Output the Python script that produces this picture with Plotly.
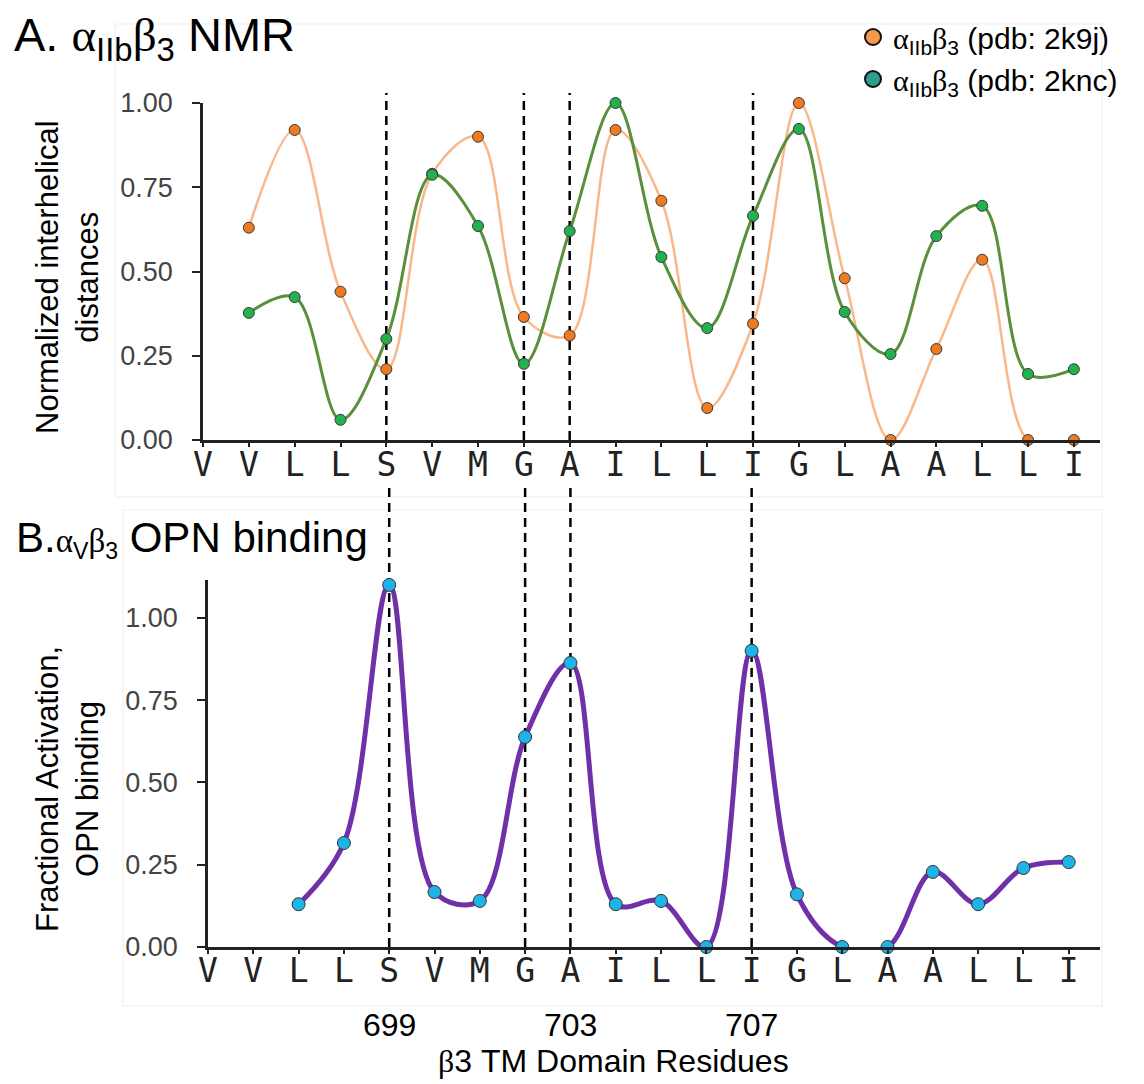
import plotly.graph_objects as go

# ---------------- data ----------------
residues = ["V", "V", "L", "L", "S", "V", "M", "G", "A", "I",
            "L", "L", "I", "G", "L", "A", "A", "L", "L", "I"]

# Panel A: normalized interhelical distances (None = no value)
nmr_2k9j = [None, 0.63, 0.92, 0.44, 0.21, 0.79, 0.90, 0.365, 0.31, 0.92,
            0.71, 0.095, 0.345, 1.00, 0.48, 0.00, 0.27, 0.535, 0.00, 0.00]
nmr_2knc = [None, 0.377, 0.424, 0.06, 0.30, 0.787, 0.635, 0.226, 0.62, 1.00,
            0.543, 0.332, 0.665, 0.923, 0.38, 0.255, 0.605, 0.695, 0.196, 0.21]

# Panel B: fractional activation, OPN binding
opn_binding = [None, None, 0.13, 0.316, 1.10, 0.167, 0.14, 0.638, 0.863, 0.13,
               0.14, 0.00, 0.90, 0.16, 0.00, 0.00, 0.228, 0.13, 0.24, 0.258]

highlight_idx = [4, 7, 8, 12]          # S, G, A, I
residue_numbers = {4: "699", 8: "703", 12: "707"}

SERIF_SPAN = "<span style='font-family:Liberation Serif, Times New Roman, serif'>{}</span>"
ALPHA = SERIF_SPAN.format("α")
BETA = SERIF_SPAN.format("β")
INTEGRIN_IIB = ALPHA + "<sub>IIb</sub>" + BETA + "<sub>3</sub>"
INTEGRIN_V = ALPHA + "<sub>V</sub>" + BETA + "<sub>3</sub>"

series_a_names = [INTEGRIN_IIB + " (pdb: 2k9j)",
                  INTEGRIN_IIB + " (pdb: 2knc)"]

# ---------------- layout helpers ----------------
W, H = 1144, 1084
def px(v):
    return v / W
def py(v):
    return 1 - v / H

def xy(vals):
    xs = [i for i, v in enumerate(vals) if v is not None]
    ys = [v for v in vals if v is not None]
    return xs, ys

SANS = "Liberation Sans, Arial, sans-serif"
MONO = "DejaVu Sans Mono, monospace"

fig = go.Figure()

# ---- Panel A ----
for vals, lcol, lw in [
    (nmr_2k9j, "#F8B88A", 2.5),
    (nmr_2knc, "#5A8F3C", 3),
]:
    xs, ys = xy(vals)
    fig.add_trace(go.Scatter(x=xs, y=ys, mode="lines", xaxis="x", yaxis="y",
                             line=dict(color=lcol, width=lw, shape="spline", smoothing=1.0),
                             cliponaxis=True, showlegend=False, hoverinfo="skip"))
for vals, mcol in [(nmr_2k9j, "#EE7A22"), (nmr_2knc, "#22B14C")]:
    xs, ys = xy(vals)
    fig.add_trace(go.Scatter(x=xs, y=ys, mode="markers", xaxis="x", yaxis="y",
                             marker=dict(color=mcol, size=11, line=dict(color="#3a3a3a", width=1)),
                             cliponaxis=False, showlegend=False))

# legend entries
for name, col in zip(series_a_names, ["#F59A48", "#2E9C8E"]):
    fig.add_trace(go.Scatter(x=[None], y=[None], mode="markers", xaxis="x", yaxis="y",
                             name=name,
                             marker=dict(color=col, size=20, line=dict(color="#111", width=2))))

# ---- Panel B ----
xs, ys = xy(opn_binding)
fig.add_trace(go.Scatter(x=xs, y=ys, mode="lines", xaxis="x2", yaxis="y2",
                         line=dict(color="#7030A8", width=5, shape="spline", smoothing=1.0),
                         cliponaxis=True, showlegend=False, hoverinfo="skip"))
fig.add_trace(go.Scatter(x=xs, y=ys, mode="markers", xaxis="x2", yaxis="y2",
                         marker=dict(color="#1EB4E8", size=13, line=dict(color="#333", width=1)),
                         cliponaxis=False, showlegend=False))

# ---------------- shapes ----------------
shapes = []
# faint panel frames
shapes.append(dict(type="rect", xref="paper", yref="paper", x0=px(115), x1=px(1102),
                   y0=py(497), y1=py(24), line=dict(color="#EDEDED", width=1), layer="below"))
shapes.append(dict(type="rect", xref="paper", yref="paper", x0=px(123), x1=px(1102),
                   y0=py(1006), y1=py(510), line=dict(color="#EDEDED", width=1), layer="below"))
for i in highlight_idx:
    shapes.append(dict(type="line", xref="x", yref="paper", x0=i, x1=i,
                       y0=py(440), y1=py(93),
                       line=dict(color="black", width=2.5, dash="9px,6px"), layer="below"))
    shapes.append(dict(type="line", xref="x2", yref="paper", x0=i, x1=i,
                       y0=py(947), y1=py(487),
                       line=dict(color="black", width=2.5, dash="9px,6px"), layer="below"))

# ---------------- annotations ----------------
ann = []
ann.append(dict(text="A. " + INTEGRIN_IIB + " NMR", xref="paper", yref="paper",
                x=px(12), y=py(38), xanchor="left", yanchor="middle", showarrow=False,
                font=dict(family=SANS, size=47, color="black")))
ann.append(dict(text="B.<span style='font-size:33px'>" + INTEGRIN_V + "</span> OPN binding",
                xref="paper", yref="paper",
                x=px(14), y=py(539), xanchor="left", yanchor="middle", showarrow=False,
                font=dict(family=SANS, size=42, color="black")))
ann.append(dict(text="Normalized interhelical<br>distances", xref="paper", yref="paper",
                x=px(67), y=py(277), textangle=-90, showarrow=False,
                xanchor="center", yanchor="middle",
                font=dict(family=SANS, size=31, color="black")))
ann.append(dict(text="Fractional Activation,<br>OPN binding", xref="paper", yref="paper",
                x=px(67), y=py(789), textangle=-90, showarrow=False,
                xanchor="center", yanchor="middle",
                font=dict(family=SANS, size=31, color="black")))
for i, lab in residue_numbers.items():
    ann.append(dict(text=lab, xref="x2", yref="paper", x=i, y=py(1025),
                    xanchor="center", yanchor="middle", showarrow=False,
                    font=dict(family=SANS, size=32, color="black")))
ann.append(dict(text=BETA + "3 TM Domain Residues", xref="paper", yref="paper",
                x=px(613), y=py(1061), xanchor="center", yanchor="middle", showarrow=False,
                font=dict(family=SANS, size=32, color="black")))

# ---------------- axes ----------------
axis_line = dict(showline=True, linecolor="#222", linewidth=2.5, showgrid=False,
                 zeroline=False, ticks="outside", tickcolor="#222", tickwidth=2,
                 automargin=False)
yticks = [0, 0.25, 0.5, 0.75, 1.0]

fig.update_layout(
    width=W, height=H,
    margin=dict(l=0, r=0, t=0, b=0, pad=0, autoexpand=False),
    paper_bgcolor="white", plot_bgcolor="white",
    font=dict(family=SANS),
    xaxis=dict(domain=[px(203), px(1100)], range=[0, 19.57], anchor="y",
               tickmode="array", tickvals=list(range(len(residues))), ticktext=residues,
               ticklen=4, tickfont=dict(family=MONO, size=33, color="#222"),
               ticklabelstandoff=-10, **axis_line),
    yaxis=dict(domain=[py(440), py(103)], range=[0, 1], anchor="x",
               tickmode="array", tickvals=yticks, tickformat=".2f",
               ticklen=8, tickfont=dict(family=SANS, size=27, color="#444"),
               ticklabelstandoff=14, **axis_line),
    xaxis2=dict(domain=[px(208), px(1100)], range=[0, 19.69], anchor="y2",
                tickmode="array", tickvals=list(range(len(residues))), ticktext=residues,
                ticklen=4, tickfont=dict(family=MONO, size=33, color="#222"),
                ticklabelstandoff=-11, **axis_line),
    yaxis2=dict(domain=[py(947), py(580)], range=[0, 1.115], anchor="x2",
                tickmode="array", tickvals=yticks, tickformat=".2f",
                ticklen=8, tickfont=dict(family=SANS, size=27, color="#444"),
                ticklabelstandoff=14, **axis_line),
    shapes=shapes,
    annotations=ann,
    legend=dict(x=px(853), y=py(11), xanchor="left", yanchor="top",
                font=dict(family=SANS, size=30, color="black"),
                bgcolor="rgba(0,0,0,0)", itemsizing="trace", tracegroupgap=0),
    showlegend=True,
)

fig.write_html("out.html")
